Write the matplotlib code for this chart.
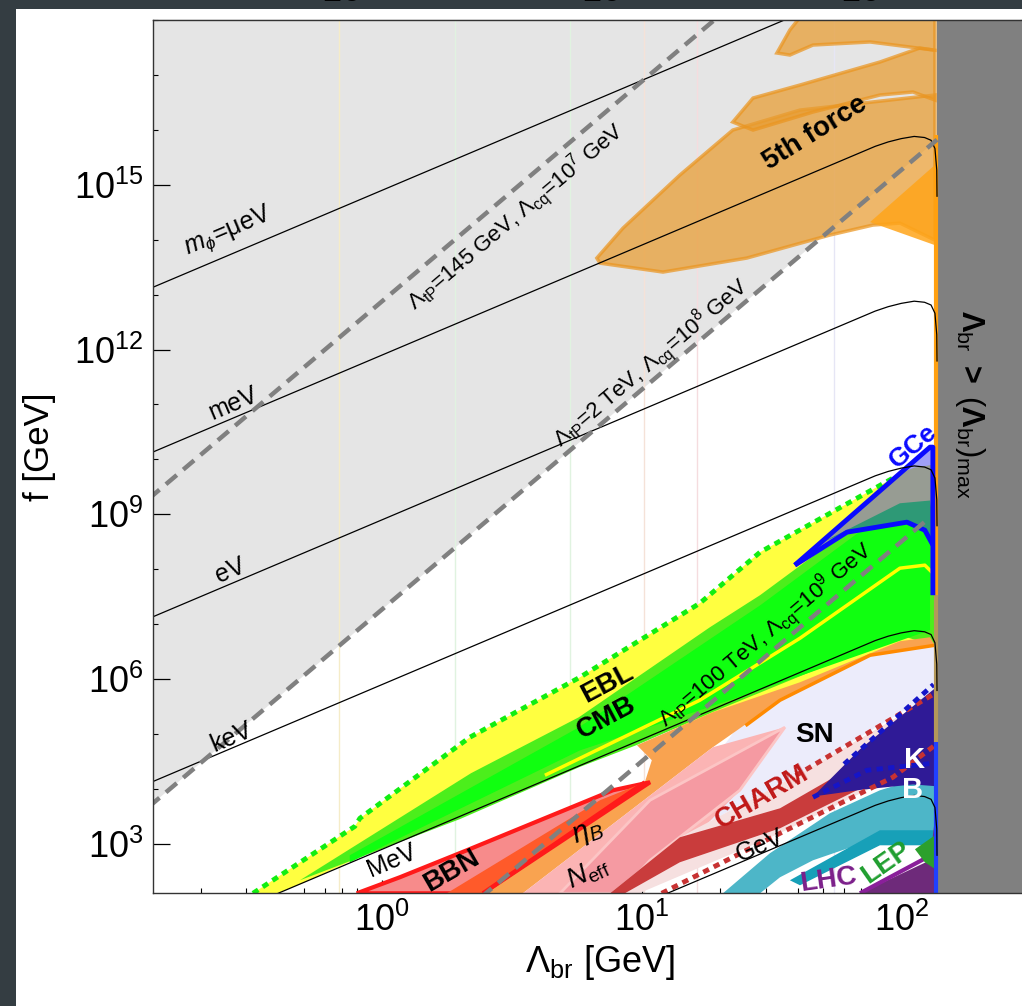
import numpy as np
import matplotlib
matplotlib.use("Agg")
from matplotlib import pyplot as plt
from matplotlib.patches import Rectangle
from matplotlib.ticker import LogLocator, NullFormatter

plt.rcParams['font.family'] = ['Liberation Sans', 'DejaVu Sans']
plt.rcParams['mathtext.fontset'] = 'custom'
plt.rcParams['mathtext.rm'] = 'Liberation Sans'
plt.rcParams['mathtext.it'] = 'Liberation Sans:italic'
plt.rcParams['mathtext.bf'] = 'Liberation Sans:bold'

# All region coordinates: log10(Lambda_br / GeV), log10(f / GeV)
x_range = (-0.882, 2.477)
y_range = (2.098, 18.0)
lam_max = 2.138
top_axis_scale = 1.343

xtick_vals = [1, 10, 100]
xtick_labels = [r'$10^{0}$', r'$10^{1}$', r'$10^{2}$']
ytick_vals = [1e3, 1e6, 1e9, 1e12, 1e15]
ytick_labels = [r'$10^{3}$', r'$10^{6}$', r'$10^{9}$', r'$10^{12}$', r'$10^{15}$']

# light grey excluded region (above the Lambda_tP = 2 TeV line)
gray_L = [-0.9, 2.138, 2.138, -0.9]
gray_F = [3.67, 15.82, 18.1, 18.1]

# benchmark dashed lines
dashA_L, dashA_F = [-0.9, 1.30], [9.28, 18.08]
dashB_L, dashB_F = [-0.9, 2.138], [3.67, 15.82]
dashC_L, dashC_F = [0.38, 2.10], [2.02, 8.90]

# m_phi contours
curve_L = [-0.90, 1.90, 1.95, 2.00, 2.05, 2.09, 2.115, 2.13, 2.137, 2.138]
ueV_L, ueV_F = [-0.90, 1.60], [13.10, 18.10]
meV_F = [10.10, 15.70, 15.78, 15.84, 15.88, 15.86, 15.81, 15.66, 15.27, 14.78]
eV_F = [7.10, 12.70, 12.78, 12.84, 12.88, 12.86, 12.81, 12.66, 12.27, 11.78]
keV_F = [4.10, 9.70, 9.78, 9.84, 9.88, 9.86, 9.81, 9.66, 9.27, 8.78]
MeV_F = [1.10, 6.70, 6.78, 6.84, 6.88, 6.86, 6.81, 6.66, 6.27, 5.78]
GeV_F = [-1.90, 3.70, 3.78, 3.84, 3.88, 3.86, 3.81, 3.66, 3.27, 2.78]

# faint vertical reference lines (GeV)
vline_lam = [0.68, 1.9, 5.3, 10.2, 16.4, 55.0]
vline_colors = ['#f5ecc8', '#e0f3e0', '#e0f3e0', '#f5e2d8', '#f5dcdf', '#e6e6f5']

# EBL / CMB
ebl_L = [-0.498, -0.105, -0.086, 0.338, 0.762, 1.224, 1.456, 1.968, 2.111, 2.130,
         2.130, 1.995, 1.456, 0.993, 0.762, -0.317, -0.406]
ebl_F = [2.098, 3.318, 3.464, 4.940, 6.032, 7.380, 8.309, 9.657, 9.95, 9.95,
         6.706, 6.652, 5.614, 4.885, 4.575, 2.26, 2.098]
ebl_dot_L = [-0.498, -0.105, -0.086, 0.338, 0.762, 1.224, 1.456, 1.968]
ebl_dot_F = [2.098, 3.318, 3.464, 4.940, 6.032, 7.380, 8.309, 9.657]
cmb_L = [-0.317, 0.342, 0.758, 1.263, 1.456, 1.968, 2.111, 2.130,
         2.130, 1.995, 1.610, 1.274, 0.982, 0.762, 0.30]
cmb_F = [2.335, 4.284, 5.304, 6.943, 7.526, 9.311, 9.803, 9.803,
         6.60, 6.80, 6.05, 5.40, 4.80, 4.40, 3.45]
cmb_in_L = [-0.125, 0.758, 1.456, 1.968, 2.111, 2.111, 1.456, 0.762, -0.125]
cmb_in_F = [2.79, 5.12, 7.34, 9.13, 9.44, 6.89, 5.80, 4.70, 2.66]
cmb_yel_L = [0.627, 1.224, 1.610, 1.995, 2.091, 2.130]
cmb_yel_F = [4.247, 5.614, 6.743, 8.018, 8.073, 7.89]

# GCe
gce_fill_L = [1.590, 2.111, 2.122, 2.122, 2.091, 2.022, 1.791]
gce_fill_F = [8.073, 10.222, 10.222, 8.44, 8.71, 8.856, 8.674]
gce_teal_L = [1.70, 1.995, 2.111, 2.122, 2.122, 2.091, 2.022, 1.791]
gce_teal_F = [8.50, 9.20, 9.25, 8.9, 8.44, 8.71, 8.856, 8.674]
gce_top_L = [1.995, 2.111, 2.122, 2.122, 2.05]
gce_top_F = [9.744, 10.222, 10.222, 9.9, 9.85]
gce_out_L = [1.590, 2.111, 2.122, 2.122]
gce_out_F = [8.073, 10.222, 10.222, 7.526]
gce_low_L = [1.590, 1.791, 2.022, 2.091, 2.122]
gce_low_F = [8.073, 8.674, 8.856, 8.71, 8.44]

# SN / Neff / eta_B / BBN
lav_L = [0.90, 1.417, 1.841, 2.130, 2.130, 1.583, 1.20, 1.00, 0.95]
lav_F = [2.098, 5.432, 6.433, 6.706, 5.76, 4.211, 3.25, 2.60, 2.098]
orange_L = [0.377, 1.012, 1.039, 0.982, 1.274, 1.610, 1.995, 2.111, 2.130,
            1.880, 1.533, 1.274, 0.542]
orange_F = [2.098, 4.120, 4.521, 4.794, 5.395, 5.941, 6.688, 6.761, 6.615,
            6.433, 5.614, 4.757, 2.098]
orange_edge_L = [2.130, 1.880, 1.533, 1.40]
orange_edge_F = [6.615, 6.433, 5.614, 5.15]
neff_L = [0.542, 1.274, 1.552, 1.378, 0.993]
neff_F = [2.098, 4.757, 5.122, 3.974, 2.098]
sn_L = [0.685, 1.032, 1.552, 1.378, 1.032, 0.916]
sn_F = [2.098, 3.792, 5.122, 3.974, 2.699, 2.098]
bbn_L = [-0.098, 0.068, 0.326, 0.889, 1.032, 0.388]
bbn_F = [2.098, 2.390, 2.881, 3.974, 4.120, 2.098]
etab_L = [0.249, 0.839, 1.012, 0.388]
etab_F = [2.098, 3.792, 4.120, 2.098]

# CHARM / K / B / LHC / LEP
charm_lt_L = [0.99, 1.533, 1.968, 2.130, 2.130, 1.583, 1.147, 0.878]
charm_lt_F = [2.098, 3.191, 4.211, 4.794, 5.70, 4.211, 3.118, 2.098]
charm_L = [0.878, 1.147, 1.533, 1.868, 2.111, 2.130, 1.868, 1.533, 1.147, 0.935]
charm_F = [2.098, 3.118, 3.646, 4.557, 4.976, 4.521, 4.065, 3.282, 2.663, 2.098]
charm_dot1_L, charm_dot1_F = [2.118, 1.583], [5.705, 4.211]
charm_dot2_L = [1.077, 1.533, 1.968, 2.130]
charm_dot2_F = [2.098, 3.191, 4.211, 4.794]
k_L = [2.130, 1.841, 1.660, 1.841, 2.045, 2.130]
k_F = [5.83, 4.72, 3.86, 3.98, 4.08, 4.05]
k_dot1_L, k_dot1_F = [1.78, 2.125], [4.45, 5.90]
k_dot2_L, k_dot2_F = [1.660, 1.868, 2.122], [3.847, 4.338, 4.466]
b_L = [1.313, 1.494, 1.725, 1.918, 2.045, 2.130, 2.130, 1.918, 1.660, 1.533, 1.456]
b_F = [2.098, 2.827, 3.555, 3.974, 4.156, 4.10, 3.063, 3.118, 2.699, 2.390, 2.098]
b_dark_L = [1.571, 1.918, 2.130, 2.130, 1.918, 1.610]
b_dark_F = [2.335, 3.246, 3.246, 2.972, 2.972, 2.244]
lhc_L = [1.841, 2.111, 2.138, 2.138]
lhc_F = [2.098, 2.699, 3.792, 2.098]
lhc_line_L, lhc_line_F = [1.841, 2.138], [2.098, 2.85]
lep_L = [2.053, 2.130, 2.138, 2.091]
lep_F = [2.90, 3.155, 2.517, 2.663]

# fifth force
ff1_L = [0.827, 0.928, 1.147, 1.351, 1.610, 2.130, 2.130, 1.995, 1.891, 1.725,
         1.405, 1.082, 0.839]
ff1_F = [13.665, 14.211, 15.176, 15.996, 16.36, 16.634, 13.992, 14.302, 14.266,
         14.084, 13.665, 13.410, 13.573]
ff2_L = [1.351, 1.429, 1.610, 1.918, 2.072, 2.130, 2.130, 2.045, 1.918, 1.660, 1.429]
ff2_F = [16.142, 16.579, 16.816, 17.235, 17.490, 17.45, 16.543, 16.689, 16.634,
         16.324, 15.996]
ff3_L = [1.521, 1.571, 1.610, 2.130, 2.130, 1.880, 1.660, 1.571]
ff3_F = [17.399, 17.818, 18.05, 18.05, 17.45, 17.6, 17.544, 17.362]
ff_bright_L = [1.880, 2.130, 2.130]
ff_bright_F = [14.32, 15.36, 13.90]

# strip at (Lambda_br)_max: (bottom, top, colour)
strip_L = 2.133
strip_segments = [(7.49, 15.90, '#ffa010'), (4.85, 7.53, '#b4985a'), (2.098, 4.85, '#2040ff')]

# labels
mass_labels = [
    (r'$m_\phi$=μeV', -0.595, 14.14),
    ('meV', -0.575, 11.02),
    ('eV', -0.587, 7.98),
    ('keV', -0.579, 4.94),
    ('MeV', 0.037, 2.70),
    ('GeV', 1.456, 2.97),
]
dash_labels = [
    (r'$\Lambda_{\rm tP}$=145 GeV, $\Lambda_{\rm cq}$=10$^7$ GeV', 0.516, 14.41),
    (r'$\Lambda_{\rm tP}$=2 TeV, $\Lambda_{\rm cq}$=10$^8$ GeV', 1.035, 11.75),
    (r'$\Lambda_{\rm tP}$=100 TeV, $\Lambda_{\rm cq}$=10$^9$ GeV', 1.478, 6.80),
]
# text, logL, logF, rotation, size, colour
region_labels = [
    ('5th force', 1.667, 15.94, 32, 20, 'black'),
    ('EBL', 0.866, 5.905, 28, 20, 'black'),
    ('CMB', 0.863, 5.29, 28, 20, 'black'),
    ('SN', 1.667, 4.98, 0, 20, 'black'),
    ('K', 2.052, 4.52, 0, 21, 'white'),
    ('B', 2.045, 3.97, 0, 21, 'white'),
    ('GCe', 2.045, 10.24, 40, 19, '#0a0aff'),
    ('CHARM', 1.463, 3.85, 30, 20, '#c01818'),
    ('BBN', 0.269, 2.50, 30, 20, 'black'),
    (r'$\eta_B$', 0.793, 3.21, 20, 21, 'black'),
    (r'$N_{\rm eff}$', 0.793, 2.47, 25, 20, 'black'),
    ('LHC', 1.718, 2.33, 8, 20, '#7b1f8a'),
    ('LEP', 1.941, 2.66, 35, 20, '#1f9e2f'),
]

P = lambda v: np.power(10.0, np.asarray(v, dtype=float))

fig = plt.figure(figsize=(10.22, 10.06), dpi=100)
fig.patch.set_facecolor('#343d42')
fig.add_artist(Rectangle((16 / 1022, 0), 1, 1 - 9 / 1006, transform=fig.transFigure,
                         facecolor='white', edgecolor='none', zorder=0))

ax = fig.add_axes([153.3 / 1022, (1006 - 893.3) / 1006, (1025 - 153.3) / 1022,
                   (893.3 - 20) / 1006])
ax.set_xscale('log')
ax.set_yscale('log')
ax.set_xlim(P(x_range[0]), P(x_range[1]))
ax.set_ylim(P(y_range[0]), P(y_range[1]))


def poly(L, F, color, z, alpha=1.0, ec='none', lw=0):
    ax.fill(P(L), P(F), facecolor=color, edgecolor=ec, lw=lw, alpha=alpha, zorder=z)


def line(L, F, color, z, lw=1.0, **kw):
    ax.plot(P(L), P(F), color=color, lw=lw, zorder=z, solid_capstyle='butt', **kw)


poly(gray_L, gray_F, '#e5e5e5', 1)
for lam, c in zip(vline_lam, vline_colors):
    ax.axvline(lam, color=c, lw=1.0, zorder=1.5)
poly([lam_max, 3.0, 3.0, lam_max], [1.5, 1.5, 18.5, 18.5], '#808080', 5)

# fifth force
poly(ff1_L, ff1_F, '#e89c30', 2, alpha=0.72, ec='#ea9520', lw=2.5)
poly(ff2_L, ff2_F, '#e89c30', 2.1, alpha=0.72, ec='#ea9520', lw=2.5)
poly(ff3_L, ff3_F, '#e89c30', 2.2, alpha=0.72, ec='#ea9520', lw=2.5)
poly(ff_bright_L, ff_bright_F, '#ffa51a', 2.3, alpha=0.85)

# low-f regions
poly(lav_L, lav_F, '#ececfb', 2)
poly(ebl_L, ebl_F, '#ffff40', 3)
poly(cmb_L, cmb_F, '#4cee1c', 3.2)
poly(cmb_in_L, cmb_in_F, '#10ff10', 3.3)
line(cmb_yel_L, cmb_yel_F, '#ffff00', 3.4, lw=2.5)
line(ebl_dot_L, ebl_dot_F, '#11ee11', 6, lw=3.5, linestyle=(0, (1.3, 1.1)))
poly(orange_L, orange_F, '#f9a350', 3.5)
line(orange_edge_L, orange_edge_F, '#ff8a00', 3.55, lw=2.5)
poly(neff_L, neff_F, '#fbb4b4', 3.6)
poly(sn_L, sn_F, '#f59aa2', 3.7, ec='#fcc5c5', lw=2)
poly(bbn_L, bbn_F, '#f78b8b', 3.8, ec='#ff1a1a', lw=3)
poly(etab_L, etab_F, '#ff5a2a', 3.9)
line([1.012, 0.388], [4.120, 2.098], '#ff1a1a', 3.95, lw=3)
poly(charm_lt_L, charm_lt_F, '#f6e0e0', 4)
poly(charm_L, charm_F, '#c42a2a', 4.1, alpha=0.9)
line(charm_dot1_L, charm_dot1_F, '#c83232', 6, lw=3.5, linestyle=(0, (1.3, 1.1)))
line(charm_dot2_L, charm_dot2_F, '#c83232', 6, lw=3.5, linestyle=(0, (1.3, 1.1)))
poly(b_L, b_F, '#4db6c8', 4.2)
poly(b_dark_L, b_dark_F, '#17a0b8', 4.25)
poly(k_L, k_F, '#2f1a96', 4.3)
line(k_dot1_L, k_dot1_F, '#1515c8', 6, lw=3.5, linestyle=(0, (1.3, 1.1)))
line(k_dot2_L, k_dot2_F, '#1515c8', 6, lw=3.5, linestyle=(0, (1.3, 1.1)))
poly(lhc_L, lhc_F, '#6e2a7a', 4.4)
line(lhc_line_L, lhc_line_F, '#8a1f9a', 4.45, lw=3)
poly(lep_L, lep_F, '#2ca02c', 4.5)

# GCe
poly(gce_fill_L, gce_fill_F, '#979c93', 4.6)
poly(gce_teal_L, gce_teal_F, '#2e9976', 4.65)
poly(gce_top_L, gce_top_F, '#a0a0f8', 4.66)
line(gce_out_L, gce_out_F, '#0a0aff', 6.5, lw=3.5)
line(gce_low_L, gce_low_F, '#0a0aff', 6.5, lw=3.5)

# strip at the maximum Lambda_br
for f0, f1, c in strip_segments:
    line([strip_L, strip_L], [f0, f1], c, 6.4, lw=3)

# mass contours
line(ueV_L, ueV_F, 'black', 7, lw=0.9)
for F in (meV_F, eV_F, keV_F, MeV_F, GeV_F):
    line(curve_L, F, 'black', 7, lw=0.9)

# benchmark dashed lines
for L, F in ((dashA_L, dashA_F), (dashB_L, dashB_F), (dashC_L, dashC_F)):
    line(L, F, '#808080', 7.5, lw=3.2, linestyle=(0, (3.2, 1.9)))

# labels
for txt, lx, ly in mass_labels:
    ax.text(P(lx), P(ly), txt, rotation=22.9, rotation_mode='anchor', ha='center',
            va='center', fontsize=18, zorder=9)
for txt, lx, ly in dash_labels:
    ax.text(P(lx), P(ly), txt, rotation=40.2, rotation_mode='anchor', ha='center',
            va='center', fontsize=16, zorder=9)
for txt, lx, ly, rot, size, col in region_labels:
    ax.text(P(lx), P(ly), txt, rotation=rot, rotation_mode='anchor', ha='center',
            va='center', fontsize=size, color=col, fontweight='bold', zorder=9)
ax.text(P(2.265), P(11.0),
        r'$\mathbf{\Lambda}_{\rm br}\ \mathbf{>}\ (\mathbf{\Lambda}_{\rm br})_{\rm max}$',
        rotation=-90, ha='center', va='center', fontsize=22, zorder=9)

# ticks
ax.set_xticks(xtick_vals)
ax.set_xticklabels(xtick_labels, fontsize=26)
ax.xaxis.set_minor_locator(LogLocator(base=10, subs=np.arange(2, 10)))
ax.xaxis.set_minor_formatter(NullFormatter())
ax.set_yticks(ytick_vals)
ax.set_yticklabels(ytick_labels, fontsize=26)
ax.yaxis.set_minor_locator(LogLocator(base=10, subs=[1.0], numticks=30))
ax.yaxis.set_minor_formatter(NullFormatter())
ax.tick_params(axis='x', which='major', direction='in', length=9.5, width=0.9,
               bottom=True, top=False, pad=7)
ax.tick_params(axis='x', which='minor', direction='in', length=3.5, width=0.8,
               bottom=True, top=False)
ax.tick_params(axis='y', which='major', direction='in', length=12.5, width=0.9,
               left=True, right=True, pad=7)
ax.tick_params(axis='y', which='minor', direction='in', length=3.6, width=0.8,
               left=True, right=True)
for s in ax.spines.values():
    s.set_color('#333333')
    s.set_linewidth(1.0)
    s.set_zorder(10)

secax = ax.secondary_xaxis('top', functions=(lambda x: x * top_axis_scale,
                                             lambda x: x / top_axis_scale))
secax.set_xticks(xtick_vals)
secax.set_xticklabels(xtick_labels, fontsize=26)
secax.xaxis.set_minor_locator(LogLocator(base=10, subs=np.arange(2, 10)))
secax.xaxis.set_minor_formatter(NullFormatter())
secax.tick_params(which='major', direction='in', length=12, width=0.9, pad=7.5)
secax.tick_params(which='minor', direction='in', length=3.5, width=0.8)

fig.text(40 / 1022, 1 - 447 / 1006, 'f [GeV]', rotation=90, ha='center', va='center',
         fontsize=25)
fig.text(600 / 1022, 1 - 962 / 1006, r'$\Lambda_{\rm br}$ [GeV]', ha='center',
         va='center', fontsize=26)

fig.savefig('out.png', dpi=100, facecolor=fig.get_facecolor())
